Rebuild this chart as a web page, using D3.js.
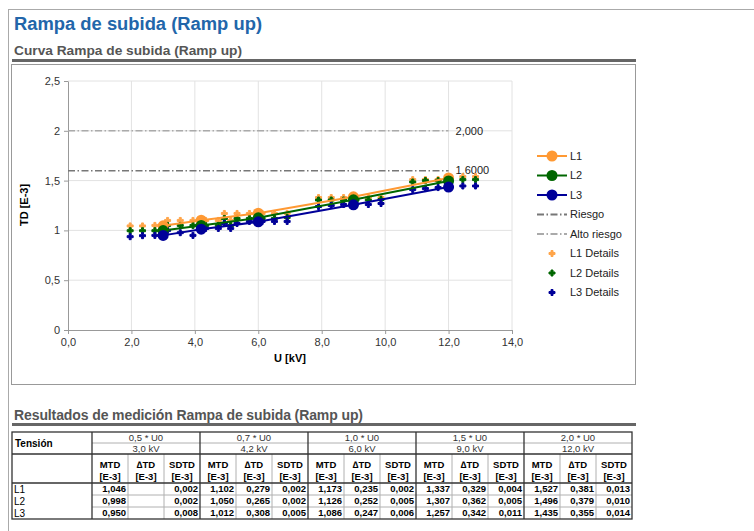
<!DOCTYPE html>
<html lang="es">
<head>
<meta charset="UTF-8">
<title>Rampa de subida (Ramp up)</title>
<script src="https://cdn.jsdelivr.net/npm/d3@7"></script>
<style>
  body { margin: 0; background: #fff; }
  svg text { font-family: "Liberation Sans", Arial, sans-serif; }
</style>
</head>
<body>
<div id="page"></div>
<script>
// ---- data ----
// mean TD per voltage step (also the MTD column of the table)
var stepKV = [3.0, 4.2, 6.0, 9.0, 12.0];
var meanL1 = [1.046, 1.102, 1.173, 1.337, 1.527];
var meanL2 = [0.998, 1.050, 1.126, 1.307, 1.496];
var meanL3 = [0.950, 1.012, 1.086, 1.257, 1.435];

// single measurements ("Details")
var detailKV = [1.96, 2.35, 2.74, 3.14, 3.54, 3.94, 4.34, 4.74, 4.93, 5.13, 5.33, 5.72, 6.12, 6.51, 6.91,
                7.9, 8.3, 8.69, 9.08, 9.47, 9.87, 10.87, 11.27, 11.67, 12.05, 12.45, 12.85];
var detailL1 = [1.045, 1.045, 1.05, 1.10, 1.10, 1.10, 1.10, 1.10, 1.17, 1.10, 1.17, 1.17, 1.17, 1.17, 1.17,
                1.33, 1.33, 1.33, 1.33, 1.33, 1.33, 1.51, 1.51, 1.51, 1.52, 1.54, 1.54];
var detailL2 = [0.997, 0.997, 0.997, 1.05, 1.05, 1.05, 1.05, 1.05, 1.12, 1.05, 1.12, 1.12, 1.12, 1.12, 1.13,
                1.305, 1.305, 1.305, 1.305, 1.305, 1.31, 1.486, 1.50, 1.50, 1.50, 1.51, 1.51];
var detailL3 = [0.937, 0.947, 0.95, 1.0, 0.977, 0.95, 1.02, 1.02, 1.07, 1.02, 1.07, 1.09, 1.09, 1.09, 1.09,
                1.24, 1.25, 1.26, 1.265, 1.26, 1.27, 1.41, 1.42, 1.43, 1.435, 1.446, 1.446];

var riesgo = 1.6, altoRiesgo = 2.0;
var riesgoLabel = "1,6000", altoLabel = "2,000";

var xTicks = [0, 2, 4, 6, 8, 10, 12, 14];
var yTicks = [0, 0.5, 1, 1.5, 2, 2.5];

// table
var groupLabels = ["0,5 * U0", "0,7 * U0", "1,0 * U0", "1,5 * U0", "2,0 * U0"];
var kvLabels = ["3,0 kV", "4,2 kV", "6,0 kV", "9,0 kV", "12,0 kV"];
var subLabels = ["MTD", "\u2206TD", "SDTD"];
var rowNames = ["L1", "L2", "L3"];
var dtdL1 = [null, 0.279, 0.235, 0.329, 0.381];
var dtdL2 = [null, 0.265, 0.252, 0.362, 0.379];
var dtdL3 = [null, 0.308, 0.247, 0.342, 0.355];
var sdL1 = [0.002, 0.002, 0.002, 0.004, 0.013];
var sdL2 = [0.002, 0.002, 0.005, 0.005, 0.010];
var sdL3 = [0.008, 0.005, 0.006, 0.011, 0.014];

var colL1 = "#ff9933", colL2 = "#006600", colL3 = "#000099";
var colD1 = "#ffa54a";

// ---- page ----
var W = 754, H = 531;
var svg = d3.select("#page").append("svg")
  .attr("width", W).attr("height", H);

var loc = d3.formatLocale({decimal: ",", thousands: ".", grouping: [3], currency: ["", "€"]});
var f1 = loc.format(".1f"), f3 = loc.format(".3f"), fg = loc.format("~g");

// page frame
svg.append("line").attr("x1", 8.5).attr("x2", 8.5).attr("y1", 9).attr("y2", H)
  .attr("stroke", "#aaa");
svg.append("line").attr("x1", 8).attr("x2", W).attr("y1", 9.5).attr("y2", 9.5)
  .attr("stroke", "#aaa");

svg.append("text").attr("x", 14).attr("y", 30)
  .style("font-size", "18px").style("font-weight", "bold").style("fill", "#2266aa")
  .style("font-family", "'Liberation Sans Narrow', 'Liberation Sans', Arial, sans-serif")
  .attr("textLength", 248).attr("lengthAdjust", "spacingAndGlyphs")
  .text("Rampa de subida (Ramp up)");

svg.append("text").attr("x", 14).attr("y", 55)
  .style("font-size", "13.5px").style("font-weight", "bold").style("fill", "#555")
  .attr("textLength", 228).attr("lengthAdjust", "spacingAndGlyphs")
  .text("Curva Rampa de subida (Ramp up)");
svg.append("rect").attr("x", 12).attr("y", 59).attr("width", 624).attr("height", 3).attr("fill", "#666");

// chart box
svg.append("rect").attr("x", 11.5).attr("y", 64.5).attr("width", 624).attr("height", 320)
  .attr("fill", "none").attr("stroke", "#999");

// ---- chart ----
var x = d3.scaleLinear().domain([0, 14]).range([68, 512]);
var y = d3.scaleLinear().domain([0, 2.5]).range([330, 81]);

var grid = svg.append("g");
grid.selectAll(".vg").data(xTicks.slice(1)).enter().append("line")
  .attr("x1", function(d){ return x(d); }).attr("x2", function(d){ return x(d); })
  .attr("y1", y(0)).attr("y2", y(2.5)).attr("stroke", "#e2e2e2");
grid.selectAll(".hg").data(yTicks.slice(1)).enter().append("line")
  .attr("x1", x(0)).attr("x2", x(14))
  .attr("y1", function(d){ return y(d); }).attr("y2", function(d){ return y(d); })
  .attr("stroke", "#e2e2e2");

var xAxis = svg.append("g").attr("transform", "translate(0," + y(0) + ")")
  .call(d3.axisBottom(x).tickValues(xTicks).tickFormat(f1).tickSize(4).tickSizeOuter(0));
var yAxis = svg.append("g").attr("transform", "translate(" + x(0) + ",0)")
  .call(d3.axisLeft(y).tickValues(yTicks).tickFormat(fg).tickSize(4).tickSizeOuter(0));
[xAxis, yAxis].forEach(function(a){
  a.select(".domain").attr("stroke", "#999");
  a.selectAll(".tick line").attr("stroke", "#999");
  a.selectAll(".tick text").attr("fill", "#333")
    .style("font-size", "11px").style("font-family", "Liberation Sans, Arial, sans-serif");
});
xAxis.selectAll(".tick text").attr("dy", "0.9em").attr("y", 6);
yAxis.selectAll(".tick text").attr("x", -8);

svg.append("text").attr("x", 290).attr("y", 362).attr("text-anchor", "middle")
  .style("font-size", "11px").style("font-weight", "bold").text("U [kV]");
svg.append("text").attr("transform", "translate(28,205) rotate(-90)").attr("text-anchor", "middle")
  .style("font-size", "11px").style("font-weight", "bold").text("TD [E-3]");

// risk lines
var dash = "7,2.5,1.5,2.5";
var risks = [
  {v: altoRiesgo, lab: altoLabel, col: "#aaaaaa"},
  {v: riesgo, lab: riesgoLabel, col: "#777777"}
];
risks.forEach(function(r){
  svg.append("line").attr("x1", x(0)).attr("x2", x(12))
    .attr("y1", y(r.v)).attr("y2", y(r.v))
    .attr("stroke", r.col).attr("stroke-width", 1.5).attr("stroke-dasharray", dash);
  svg.append("text").attr("x", x(12) + 7).attr("y", y(r.v)).attr("dy", "0.35em")
    .style("font-size", "11px").style("fill", "#222").text(r.lab);
});

// details
var marker = d3.symbol().type(d3.symbolCross).size(20);
var detailSets = [[detailL1, colD1], [detailL2, colL2], [detailL3, colL3]];
detailSets.forEach(function(s){
  svg.append("g").selectAll("path").data(detailKV).enter().append("path")
    .attr("d", marker)
    .attr("transform", function(d, i){ return "translate(" + x(d) + "," + y(s[0][i]) + ")"; })
    .attr("fill", s[1]).attr("stroke", s[1]).attr("stroke-width", 1).attr("stroke-linejoin", "round");
});

// mean lines
var lineGen = d3.line().x(function(d){ return x(d[0]); }).y(function(d){ return y(d[1]); });
var meanSets = [[meanL1, colL1], [meanL2, colL2], [meanL3, colL3]];
meanSets.forEach(function(s){
  var pts = stepKV.map(function(k, i){ return [k, s[0][i]]; });
  svg.append("path").datum(pts).attr("d", lineGen)
    .attr("fill", "none").attr("stroke", s[1]).attr("stroke-width", 2);
  svg.append("g").selectAll("circle").data(pts).enter().append("circle")
    .attr("cx", function(d){ return x(d[0]); }).attr("cy", function(d){ return y(d[1]); })
    .attr("r", 5.5).attr("fill", s[1]);
});

// legend
var legend = [
  {n: "L1", t: "line", c: colL1}, {n: "L2", t: "line", c: colL2}, {n: "L3", t: "line", c: colL3},
  {n: "Riesgo", t: "dash", c: "#777777"}, {n: "Alto riesgo", t: "dash", c: "#aaaaaa"},
  {n: "L1 Details", t: "pt", c: colD1}, {n: "L2 Details", t: "pt", c: colL2}, {n: "L3 Details", t: "pt", c: colL3}
];
var lg = svg.append("g").selectAll("g").data(legend).enter().append("g")
  .attr("transform", function(d, i){ return "translate(537," + (156 + i * 19.5) + ")"; });
lg.each(function(d){
  var g = d3.select(this);
  if (d.t === "line") {
    g.append("line").attr("x1", 0).attr("x2", 30).attr("stroke", d.c).attr("stroke-width", 2);
    g.append("circle").attr("cx", 15).attr("r", 5.5).attr("fill", d.c);
  } else if (d.t === "dash") {
    g.append("line").attr("x1", 0).attr("x2", 30).attr("stroke", d.c).attr("stroke-width", 2)
      .attr("stroke-dasharray", dash);
  } else {
    g.append("path").attr("d", marker).attr("transform", "translate(15,0)")
      .attr("fill", d.c).attr("stroke", d.c).attr("stroke-width", 1).attr("stroke-linejoin", "round");
  }
  g.append("text").attr("x", 33).attr("dy", "0.35em").style("font-size", "11px").style("fill", "#222").text(d.n);
});

// ---- table ----
svg.append("text").attr("x", 14).attr("y", 420)
  .style("font-size", "14px").style("font-weight", "bold").style("fill", "#555")
  .attr("textLength", 349).attr("lengthAdjust", "spacing")
  .text("Resultados de medición Rampa de subida (Ramp up)");
svg.append("rect").attr("x", 12).attr("y", 423).attr("width", 624).attr("height", 3).attr("fill", "#666");

var tx0 = 12, tx1 = 632, firstW = 80;
var gx = d3.scaleBand().domain(d3.range(groupLabels.length)).range([tx0 + firstW, tx1]);
var sx = d3.scaleBand().domain(d3.range(3)).range([0, gx.bandwidth()]);
var rowY = [432, 443, 454, 483, 495, 507, 519];

var tb = svg.append("g");
var thin = "#b0b0b0", thick = "#333";
// thin lines
groupLabels.forEach(function(_, gi){
  var gx0 = gx(gi);
  tb.append("line").attr("x1", gx0).attr("x2", gx0 + gx.bandwidth()).attr("y1", rowY[1]).attr("y2", rowY[1]).attr("stroke", thin);
  [1, 2].forEach(function(k){
    tb.append("line").attr("x1", gx0 + sx(k)).attr("x2", gx0 + sx(k)).attr("y1", rowY[2]).attr("y2", rowY[6]).attr("stroke", thin);
  });
});
[4, 5].forEach(function(r){
  tb.append("line").attr("x1", tx0 + firstW).attr("x2", tx1).attr("y1", rowY[r]).attr("y2", rowY[r]).attr("stroke", thin);
});
// thick lines
tb.append("rect").attr("x", tx0).attr("y", rowY[0]).attr("width", tx1 - tx0).attr("height", rowY[6] - rowY[0])
  .attr("fill", "none").attr("stroke", thick).attr("stroke-width", 1.3);
[2, 3].forEach(function(r){
  tb.append("line").attr("x1", tx0).attr("x2", tx1).attr("y1", rowY[r]).attr("y2", rowY[r]).attr("stroke", thick).attr("stroke-width", 1.3);
});
groupLabels.forEach(function(_, gi){
  tb.append("line").attr("x1", gx(gi)).attr("x2", gx(gi)).attr("y1", rowY[0]).attr("y2", rowY[6]).attr("stroke", thick).attr("stroke-width", 1.3);
});

var tfs = "9.5px";
tb.append("text").attr("x", tx0 + 3).attr("y", rowY[1]).attr("dy", "0.35em")
  .style("font-size", "10px").style("font-weight", "bold").text("Tensión");
groupLabels.forEach(function(lab, gi){
  var cx = gx(gi) + gx.bandwidth() / 2;
  tb.append("text").attr("x", cx).attr("y", (rowY[0] + rowY[1]) / 2).attr("dy", "0.35em")
    .attr("text-anchor", "middle").style("font-size", tfs).style("fill", "#333").text(lab);
  tb.append("text").attr("x", cx).attr("y", (rowY[1] + rowY[2]) / 2).attr("dy", "0.35em")
    .attr("text-anchor", "middle").style("font-size", tfs).style("fill", "#333").text(kvLabels[gi]);
  subLabels.forEach(function(s, k){
    var sc = gx(gi) + sx(k) + sx.bandwidth() / 2;
    tb.append("text").attr("x", sc).attr("y", 465).attr("dy", "0.35em").attr("text-anchor", "middle")
      .style("font-size", tfs).style("font-weight", "bold").text(s);
    tb.append("text").attr("x", sc).attr("y", 477).attr("dy", "0.35em").attr("text-anchor", "middle")
      .style("font-size", tfs).style("font-weight", "bold").text("[E-3]");
  });
});

var mtd = [meanL1, meanL2, meanL3], dtd = [dtdL1, dtdL2, dtdL3], sd = [sdL1, sdL2, sdL3];
rowNames.forEach(function(rn, ri){
  var cy = (rowY[3 + ri] + rowY[4 + ri]) / 2;
  tb.append("text").attr("x", tx0 + 2).attr("y", cy).attr("dy", "0.35em")
    .style("font-size", "10px").text(rn);
  groupLabels.forEach(function(_, gi){
    [mtd[ri][gi], dtd[ri][gi], sd[ri][gi]].forEach(function(v, k){
      if (v == null) return;
      tb.append("text").attr("x", gx(gi) + sx(k) + sx.bandwidth() - 2).attr("y", cy).attr("dy", "0.35em")
        .attr("text-anchor", "end").style("font-size", tfs).style("font-weight", "bold").text(f3(v));
    });
  });
});
</script>
</body>
</html>
